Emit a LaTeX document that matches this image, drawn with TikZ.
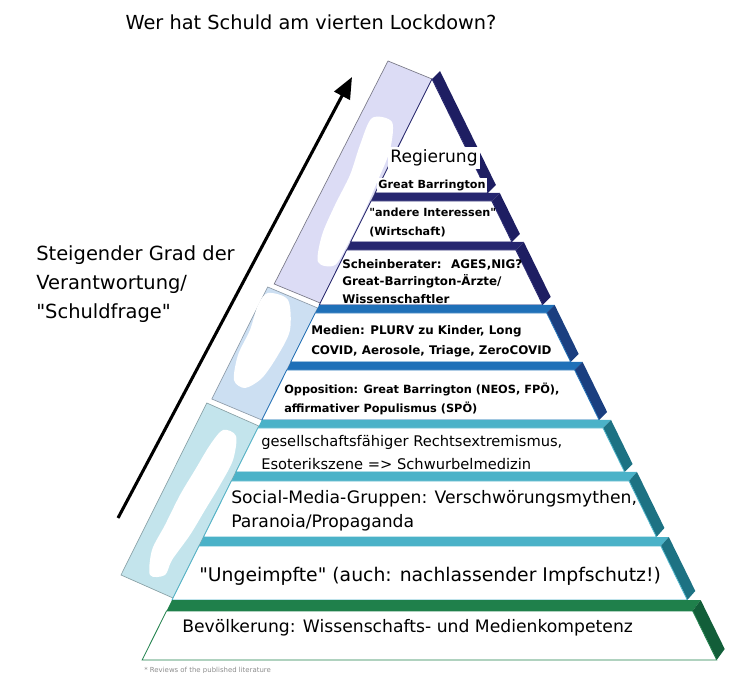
\documentclass[tikz,border=0pt]{standalone}
\usepackage{fontspec}
\setmainfont{DejaVu Sans}[Ligatures=TeXOff]
\usepackage{xcolor}
\usetikzlibrary{arrows.meta}
\definecolor{navy}{HTML}{26266F}
\definecolor{navyside}{HTML}{1E1E62}
\definecolor{bluestrip}{HTML}{1F70B8}
\definecolor{blueside}{HTML}{1B3F80}
\definecolor{tealstrip}{HTML}{4BB2C8}
\definecolor{tealside}{HTML}{1D7283}
\definecolor{greenstrip}{HTML}{1F804B}
\definecolor{greenside}{HTML}{125E39}
\definecolor{lavender}{HTML}{DCDCF5}
\definecolor{paleblue}{HTML}{CCDFF2}
\definecolor{palecyan}{HTML}{C3E4EC}

% one layer of the pyramid: strip top, front top, bottom, strip colour, side colour
\newcommand{\pyrlayer}[5]{%
  \pgfmathsetmacro{\pyXls}{432-(#1-79)*0.499}%
  \pgfmathsetmacro{\pyXlf}{432-(#2-79)*0.499}%
  \pgfmathsetmacro{\pyXrf}{432+(#2-79)*0.49}%
  \pgfmathsetmacro{\pyXlb}{432-(#3-79)*0.499}%
  \pgfmathsetmacro{\pyXrb}{432+(#3-79)*0.49}%
  \pgfmathsetmacro{\pyDs}{#2-#1}%
  \fill[#4] (\pyXlf,#2) -- (\pyXls,#1) -- (\pyXrf+8,#1) -- (\pyXrf,#2) -- cycle;
  \fill[#5] (\pyXrf,#2) -- (\pyXrf+8,#1) -- (\pyXrb+8,#3-\pyDs) -- (\pyXrb,#3) -- cycle;
  \draw[#4, fill=white, line width=0.6pt] (\pyXlf,#2) -- (\pyXrf,#2) -- (\pyXrb,#3) -- (\pyXlb,#3) -- cycle;
}

\begin{document}
\begin{tikzpicture}[
      x=0.75pt, y=-0.75pt,
      lbl/.style={inner sep=0pt, align=left, anchor=west},
      boldlbl/.style={lbl, font=\bfseries\fontsize{8.5}{14.2}\selectfont},
      panel/.style={line width=0.5pt},
      blob/.style={fill=white, draw=none},
      riseArrow/.style={line width=2.3pt, -{Triangle[length=16pt,width=13pt]}}
  ]
    \useasboundingbox (0,0) rectangle (732,673);

    % title and side note
    \node[font=\fontsize{14.5}{17}\selectfont] (title) at (311,22) {Wer hat Schuld am vierten Lockdown?};
    \node[lbl, font=\fontsize{14.6}{21.8}\selectfont] (grad) at (36,284)
      {Steigender Grad der\\Verantwortung/\\"Schuldfrage"};
    \coordinate (arrowlow) at (118,518);
    \coordinate (arrowtip) at (352,77);
    \draw[riseArrow] (arrowlow) -- (arrowtip);

    % picture panels on the left flank
    \draw[panel, draw=black!45!lavender, fill=lavender] (432,79) -- (320.2,303) -- (274.2,284) -- (388,61) -- cycle;
    \draw[panel, draw=black!30!paleblue, fill=paleblue] (317.7,308) -- (261.8,420) -- (211.8,399) -- (267.7,287) -- cycle;
    \draw[panel, draw=black!30!palecyan, fill=palecyan] (258.8,426) -- (173,598) -- (121,575) -- (206.8,403) -- cycle;
    \fill[blob] plot[smooth cycle] coordinates {(372,118) (392,122) (390,150) (378,180) (365,210) (350,240) (335,265) (318,262) (322,235) (335,205) (350,175) (360,145)};
    \fill[blob] plot[smooth cycle] coordinates {(268,293) (288,300) (290,330) (278,355) (262,378) (245,388) (234,380) (238,355) (250,330) (258,305)};
    \fill[blob] plot[smooth cycle] coordinates {(223,430) (236,436) (233,460) (220,485) (205,510) (190,535) (172,560) (165,575) (150,575) (152,550) (165,525) (180,495) (195,470) (210,445)};

    % top of the pyramid
    \fill[navyside] (432,79) -- (440,71) -- (495.9,185) -- (487.9,193) -- cycle;
    \draw[navy, fill=white, line width=0.6pt] (432,79) -- (487.9,193) -- (375.1,193) -- cycle;

    % layers
    \pyrlayer{193}{201}{242}{navy}{navyside}
    \pyrlayer{242}{250}{305}{navy}{navyside}
    \pyrlayer{305}{313}{362}{bluestrip}{blueside}
    \pyrlayer{362}{370}{420}{bluestrip}{blueside}
    \pyrlayer{420}{428}{472}{tealstrip}{tealside}
    \pyrlayer{472}{481}{537}{tealstrip}{tealside}
    \pyrlayer{537}{546}{600}{tealstrip}{tealside}
    \pyrlayer{600}{611}{660}{greenstrip}{greenside}

    % texts of the layers
    \node[fill=white, inner sep=2pt, font=\fontsize{12.8}{15}\selectfont] (regierung) at (434,158) {Regierung};
    \node[fill=white, inner sep=1pt, font=\bfseries\fontsize{8.4}{9}\selectfont] (regGB) at (432,185) {Great Barrington};
    \node[boldlbl, font=\bfseries\fontsize{8.4}{14.2}\selectfont] (interessen) at (369,222.5) {"andere Interessen"\\(Wirtschaft)};
    \node[boldlbl, font=\bfseries\fontsize{8.9}{13.2}\selectfont] (berater) at (342,281.5) {Scheinberater:~ AGES,NIG?\\Great-Barrington-Ärzte/\\Wissenschaftler};
    \node[boldlbl, font=\bfseries\fontsize{8.9}{15}\selectfont] (medien) at (311,341) {Medien: PLURV zu Kinder, Long\\COVID, Aerosole, Triage, ZeroCOVID};
    \node[boldlbl] (opposition) at (284,398.5) {Opposition: Great Barrington (NEOS, FPÖ),\\affirmativer Populismus (SPÖ)};
    \node[lbl, font=\fontsize{11}{17.2}\selectfont] (rechts) at (261,452.5) {gesellschaftsfähiger Rechtsextremismus,\\Esoterikszene => Schwurbelmedizin};
    \node[lbl, font=\fontsize{12.9}{18}\selectfont] (social) at (231,511) {Social-Media-Gruppen: Verschwörungsmythen,\\Paranoia/Propaganda};
    \node[lbl, font=\fontsize{14.1}{16}\selectfont] (ungeimpft) at (199,576) {"Ungeimpfte" (auch: nachlassender Impfschutz!)};
    \node[lbl, font=\fontsize{12.9}{15}\selectfont] (bevoelkerung) at (182,628) {Bevölkerung: Wissenschafts- und Medienkompetenz};

    \node[lbl, text=black!45, font=\fontsize{5.2}{6}\selectfont] (footnote) at (144,671) {* Reviews of the published literature};
\end{tikzpicture}
\end{document}
